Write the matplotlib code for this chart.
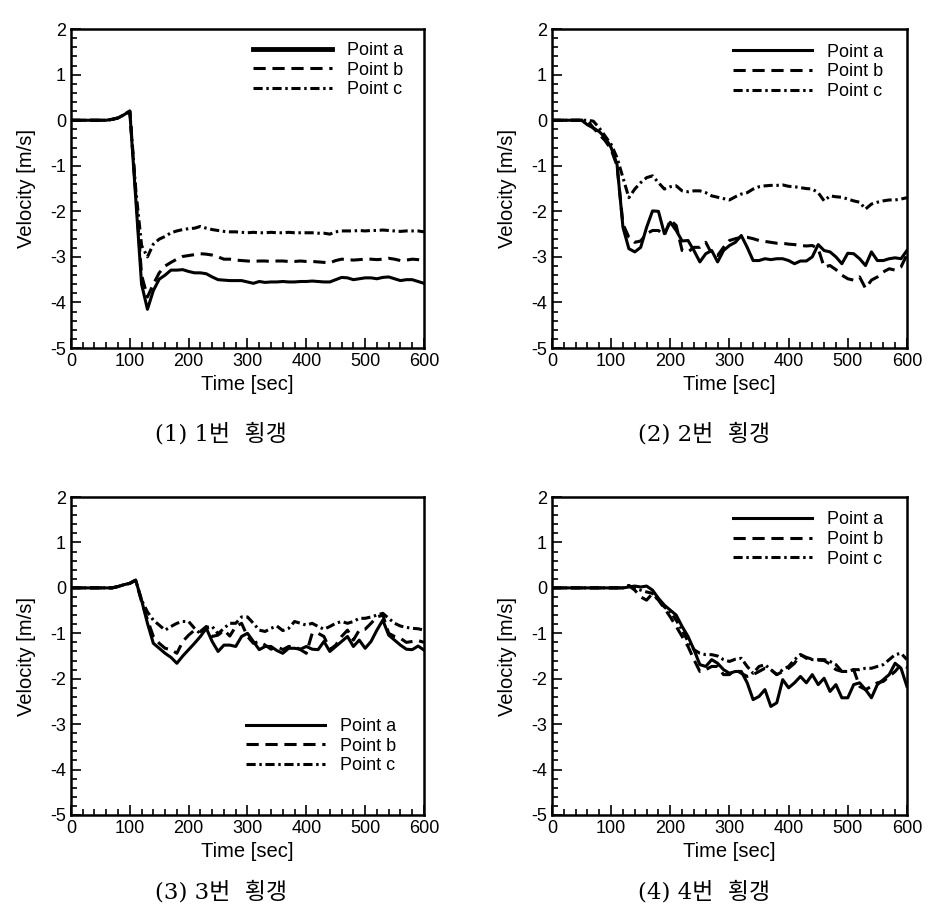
import numpy as np
import matplotlib.pyplot as plt
from matplotlib.ticker import MultipleLocator

time = np.arange(0, 601, 10)

# 1번 횡갱
a1 = [0, 0, 0, 0, 0, 0, 0, 0.02, 0.05, 0.12, 0.2, -1.7, -3.6, -4.15, -3.74, -3.49, -3.4, -3.29, -3.29, -3.28,
      -3.32, -3.35, -3.35, -3.37, -3.44, -3.5, -3.51, -3.52, -3.52, -3.52, -3.55, -3.58, -3.54, -3.56, -3.55, -3.55,
      -3.54, -3.55, -3.55, -3.54, -3.54, -3.53, -3.54, -3.55, -3.55, -3.5, -3.45, -3.46, -3.5, -3.48, -3.46, -3.46,
      -3.48, -3.45, -3.44, -3.48, -3.52, -3.5, -3.5, -3.54, -3.58]
b1 = [0, 0, 0, 0, 0, 0, 0, 0.02, 0.05, 0.12, 0.2, -1.6, -3.4, -3.88, -3.6, -3.35, -3.2, -3.12, -3.05, -2.99,
      -2.97, -2.95, -2.93, -2.94, -2.96, -3.0, -3.05, -3.05, -3.07, -3.08, -3.09, -3.1, -3.09, -3.09, -3.1, -3.09,
      -3.09, -3.1, -3.1, -3.09, -3.1, -3.1, -3.11, -3.12, -3.13, -3.08, -3.05, -3.06, -3.07, -3.06, -3.05, -3.05,
      -3.06, -3.05, -3.03, -3.05, -3.08, -3.07, -3.05, -3.06, -3.08]
c1 = [0, 0, 0, 0, 0, 0, 0, 0.02, 0.05, 0.12, 0.2, -1.5, -2.75, -3.0, -2.72, -2.61, -2.55, -2.47, -2.43, -2.4,
      -2.38, -2.37, -2.33, -2.37, -2.4, -2.42, -2.44, -2.45, -2.45, -2.46, -2.47, -2.46, -2.47, -2.47, -2.46, -2.47,
      -2.47, -2.46, -2.47, -2.47, -2.47, -2.47, -2.48, -2.48, -2.5, -2.45, -2.43, -2.43, -2.43, -2.42, -2.43, -2.42,
      -2.42, -2.41, -2.42, -2.43, -2.44, -2.43, -2.43, -2.43, -2.45]

# 2번 횡갱
a2 = [0, 0, 0, 0, 0, 0, -0.1, -0.17, -0.25, -0.38, -0.6, -0.97, -2.35, -2.82, -2.89, -2.79, -2.35, -1.99, -2.0,
      -2.49, -2.24, -2.42, -2.65, -2.64, -2.86, -3.11, -2.93, -2.86, -3.11, -2.86, -2.75, -2.68, -2.53, -2.79, -3.08,
      -3.08, -3.04, -3.06, -3.04, -3.04, -3.08, -3.15, -3.09, -3.09, -3.0, -2.73, -2.86, -2.89, -3.0, -3.15, -2.92,
      -2.93, -3.04, -3.19, -2.89, -3.08, -3.08, -3.04, -3.02, -3.04, -2.86]
b2 = [0, 0, 0, 0, 0, 0, 0, -0.17, -0.31, -0.45, -0.64, -1.0, -2.28, -2.57, -2.68, -2.65, -2.49, -2.42, -2.42,
      -2.53, -2.19, -2.31, -2.86, -2.89, -2.79, -2.79, -2.68, -2.93, -2.97, -2.79, -2.64, -2.6, -2.57, -2.57, -2.6,
      -2.64, -2.66, -2.68, -2.7, -2.7, -2.72, -2.73, -2.75, -2.76, -2.75, -2.82, -3.22, -3.19, -3.28, -3.4, -3.48,
      -3.51, -3.44, -3.69, -3.51, -3.44, -3.33, -3.26, -3.29, -3.22, -2.95]
c2 = [0, 0, 0, 0, 0, 0, 0, -0.02, -0.17, -0.35, -0.53, -0.82, -1.26, -1.7, -1.51, -1.37, -1.26, -1.22, -1.37,
      -1.51, -1.46, -1.44, -1.55, -1.57, -1.55, -1.55, -1.59, -1.66, -1.69, -1.72, -1.75, -1.68, -1.62, -1.59, -1.51,
      -1.46, -1.44, -1.43, -1.43, -1.42, -1.45, -1.46, -1.48, -1.5, -1.51, -1.59, -1.77, -1.66, -1.68, -1.69, -1.73,
      -1.77, -1.8, -1.95, -1.84, -1.8, -1.77, -1.75, -1.75, -1.73, -1.7]

# 3번 횡갱
a3 = [0, 0, 0, 0, 0, 0, 0, 0.0, 0.03, 0.07, 0.1, 0.17, -0.27, -0.78, -1.22, -1.33, -1.44, -1.53, -1.66, -1.5,
      -1.36, -1.22, -1.07, -0.89, -1.18, -1.4, -1.26, -1.26, -1.29, -1.07, -1.0, -1.18, -1.36, -1.29, -1.29, -1.38,
      -1.44, -1.33, -1.33, -1.35, -1.29, -1.35, -1.36, -1.18, -1.4, -1.29, -1.18, -1.07, -1.29, -1.15, -1.33, -1.18,
      -0.93, -0.71, -1.04, -1.15, -1.26, -1.35, -1.36, -1.28, -1.37]
b3 = [0, 0, 0, 0, 0, 0, 0, 0.0, 0.03, 0.07, 0.1, 0.17, -0.3, -0.7, -1.07, -1.22, -1.33, -1.36, -1.44, -1.18,
      -1.04, -0.93, -0.96, -0.85, -1.07, -1.04, -0.93, -1.06, -0.85, -0.78, -1.07, -1.22, -1.18, -1.26, -1.35, -1.29,
      -1.36, -1.29, -1.29, -1.36, -1.44, -1.0, -1.0, -1.07, -1.36, -1.26, -1.07, -0.93, -1.15, -0.93, -0.91, -0.78,
      -0.64, -0.6, -1.0, -1.07, -1.11, -1.2, -1.18, -1.16, -1.2]
c3 = [0, 0, 0, 0, 0, 0, 0, 0.0, 0.03, 0.07, 0.1, 0.17, -0.27, -0.53, -0.71, -0.82, -0.93, -0.85, -0.78, -0.74,
      -0.74, -0.89, -1.01, -0.87, -0.85, -1.01, -0.89, -0.78, -0.78, -0.64, -0.64, -0.78, -0.93, -0.96, -0.89, -0.84,
      -0.94, -0.89, -0.74, -0.78, -0.82, -0.78, -0.85, -0.91, -0.85, -0.78, -0.74, -0.78, -0.74, -0.67, -0.67, -0.64,
      -0.6, -0.56, -0.67, -0.78, -0.84, -0.87, -0.89, -0.9, -0.93]

# 4번 횡갱
a4 = [0, 0, 0, 0, 0, 0, 0, 0, 0, 0, 0, 0, 0, 0.02, 0.04, 0.02, 0.04, -0.05, -0.23, -0.38, -0.49, -0.6, -0.85,
      -1.07, -1.36, -1.69, -1.73, -1.58, -1.66, -1.8, -1.88, -1.84, -1.84, -2.09, -2.46, -2.39, -2.24, -2.61, -2.53,
      -2.02, -2.2, -2.09, -1.95, -2.09, -1.91, -2.13, -1.99, -2.28, -2.13, -2.42, -2.42, -2.13, -2.09, -2.24, -2.42,
      -2.13, -2.02, -1.91, -1.66, -1.77, -2.17]
b4 = [0, 0, 0, 0, 0, 0, 0, 0, 0, 0, 0, 0, 0, 0.05, -0.05, -0.2, -0.27, -0.12, -0.27, -0.45, -0.64, -0.85, -1.07,
      -1.29, -1.58, -1.84, -1.8, -1.73, -1.73, -1.91, -1.91, -1.8, -1.88, -1.95, -1.91, -1.84, -1.77, -1.8, -1.91,
      -1.84, -1.77, -1.66, -1.47, -1.53, -1.57, -1.59, -1.6, -1.68, -1.8, -1.84, -1.84, -1.8, -2.17, -2.24, -2.17,
      -2.09, -2.06, -1.95, -1.84, -1.69, -1.75]
c4 = [0, 0, 0, 0, 0, 0, 0, 0, 0, 0, 0, 0, 0, 0.05, -0.01, -0.05, -0.09, -0.12, -0.27, -0.42, -0.53, -0.71, -0.93,
      -1.18, -1.36, -1.44, -1.47, -1.47, -1.5, -1.58, -1.62, -1.57, -1.55, -1.73, -1.88, -1.73, -1.69, -1.8, -1.91,
      -1.8, -1.73, -1.58, -1.47, -1.55, -1.58, -1.58, -1.58, -1.62, -1.69, -1.84, -1.84, -1.8, -1.8, -1.77, -1.77,
      -1.73, -1.69, -1.58, -1.47, -1.44, -1.58]

labels = ['Point a', 'Point b', 'Point c']
captions = ['(1) 1번  횡갱', '(2) 2번  횡갱', '(3) 3번  횡갱', '(4) 4번  횡갱']
panels = [(a1, b1, c1), (a2, b2, c2), (a3, b3, c3), (a4, b4, c4)]

plt.rcParams['font.family'] = ['Liberation Sans', 'DejaVu Sans']
plt.rcParams['axes.unicode_minus'] = False

fig = plt.figure(figsize=(9.3, 9.11), dpi=100)
rects = [[0.0763, 0.618, 0.3796, 0.350],
         [0.5935, 0.618, 0.3817, 0.350],
         [0.0763, 0.1054, 0.3796, 0.349],
         [0.5935, 0.1054, 0.3817, 0.349]]
leg_anchor = [(0.515, 0.96), (0.51, 0.955), (0.495, 0.305), (0.51, 0.955)]
cap_pos = [(0.238, 0.523), (0.757, 0.523), (0.238, 0.021), (0.757, 0.021)]

styles = [dict(ls='-'), dict(ls=(0, (4, 2.2))), dict(ls=(0, (3, 1.2, 0.8, 1.2)))]

for k in range(4):
    ax = fig.add_axes(rects[k])
    for y, st, lab in zip(panels[k], styles, labels):
        ax.plot(time, y, color='black', lw=2.2, label=lab, **st)
    ax.set_xlim(0, 600)
    ax.set_ylim(-5, 2)
    ax.xaxis.set_major_locator(MultipleLocator(100))
    ax.xaxis.set_minor_locator(MultipleLocator(20))
    ax.yaxis.set_major_locator(MultipleLocator(1))
    ax.yaxis.set_minor_locator(MultipleLocator(0.2))
    ax.tick_params(which='both', direction='in', top=False, right=False, labelsize=13, width=1.2)
    ax.tick_params(which='major', length=7)
    ax.tick_params(which='minor', length=4)
    for s in ax.spines.values():
        s.set_linewidth(1.8)
    ax.set_xlabel('Time [sec]', fontsize=14.5, labelpad=4)
    ax.set_ylabel('Velocity [m/s]', fontsize=14.5, labelpad=10)
    leg = ax.legend(loc='upper left', bbox_to_anchor=leg_anchor[k], frameon=False, fontsize=13,
                    handlelength=4.4, handletextpad=0.8, labelspacing=0.15, borderpad=0, borderaxespad=0)
    if k == 0:
        leg.get_lines()[0].set_linewidth(3.5)
    fig.text(cap_pos[k][0], cap_pos[k][1], captions[k], ha='center', va='center', fontsize=16.5,
             family=['DejaVu Serif', 'Noto Sans CJK KR'])

fig.savefig('out.png', dpi=100)
